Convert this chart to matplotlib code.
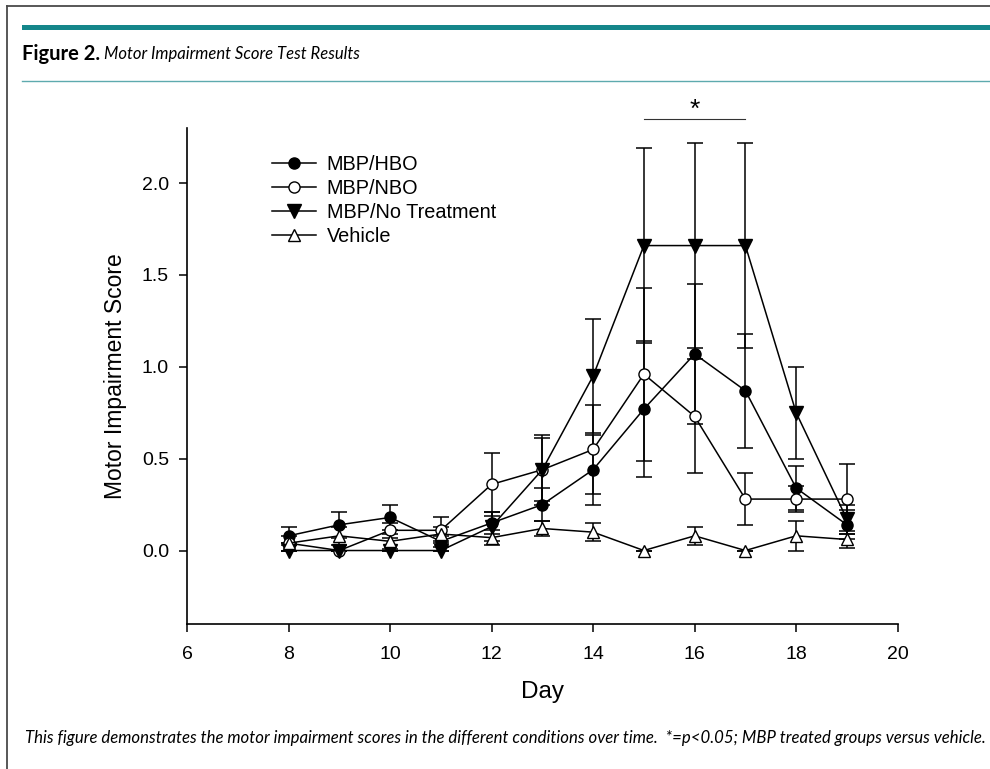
import matplotlib
matplotlib.use("Agg")
import matplotlib.pyplot as plt
from matplotlib.lines import Line2D
from matplotlib.patches import Rectangle
import numpy as np

# ---------------- data ----------------
days = [8, 9, 10, 11, 12, 13, 14, 15, 16, 17, 18, 19]

hbo      = [0.08, 0.14, 0.18, 0.05, 0.15, 0.25, 0.44, 0.77, 1.07, 0.87, 0.34, 0.14]
hbo_err  = [0.05, 0.07, 0.07, 0.03, 0.06, 0.09, 0.19, 0.37, 0.38, 0.31, 0.12, 0.08]

nbo      = [0.04, 0.00, 0.11, 0.11, 0.36, 0.44, 0.55, 0.96, 0.73, 0.28, 0.28, 0.28]
nbo_err  = [0.00, 0.00, 0.04, 0.07, 0.17, 0.17, 0.24, 0.47, 0.31, 0.14, 0.07, 0.19]

notr     = [0.00, 0.00, 0.00, 0.00, 0.13, 0.44, 0.95, 1.66, 1.66, 1.66, 0.75, 0.17]
notr_err = [0.00, 0.00, 0.00, 0.00, 0.08, 0.19, 0.31, 0.53, 0.56, 0.56, 0.25, 0.08]

veh      = [0.04, 0.08, 0.05, 0.09, 0.07, 0.12, 0.10, 0.00, 0.08, 0.00, 0.08, 0.06]
veh_err  = [0.04, 0.05, 0.04, 0.04, 0.04, 0.04, 0.05, 0.00, 0.05, 0.00, 0.08, 0.045]

labels = ["MBP/HBO", "MBP/NBO", "MBP/No Treatment", "Vehicle"]
xticks = [6, 8, 10, 12, 14, 16, 18, 20]
yticks = [0.0, 0.5, 1.0, 1.5, 2.0]

sig_days = [15, 17]
sig_star_day = 16

title_bold = "Figure 2."
title_ital = "Motor Impairment Score Test Results"
caption = ("This figure demonstrates the motor impairment scores in the different "
           "conditions over time.  *=p<0.05; MBP treated groups versus vehicle.")

# ---------------- figure ----------------
W, H = 990, 769
fig = plt.figure(figsize=(W / 100, H / 100), dpi=100)
fig.patch.set_facecolor("white")

def fx(px):
    return px / W

def fy(py):
    return 1 - py / H

# frame lines (left and top)
fig.add_artist(Line2D([fx(7), fx(7)], [fy(5.5), 0], color="#4a4a4a", lw=1.3,
                      transform=fig.transFigure))
fig.add_artist(Line2D([fx(7), 1], [fy(5.5), fy(5.5)], color="#4a4a4a", lw=1.3,
                      transform=fig.transFigure))
# teal bar
fig.add_artist(Rectangle((fx(22), fy(30)), 1 - fx(22), (30 - 25) / H,
                         facecolor="#14868a", edgecolor="none",
                         transform=fig.transFigure))
# thin rule under title
fig.add_artist(Line2D([fx(22), 1], [fy(81), fy(81)], color="#5eaaae", lw=1.0,
                      transform=fig.transFigure))

hum_family = ["Lato", "DejaVu Sans"]
renderer = fig.canvas.get_renderer()

def fit(txt, base, width_px):
    w = txt.get_window_extent(renderer=renderer).width
    txt.set_fontsize(base * width_px / w)

t1 = fig.text(fx(22), fy(54), title_bold, fontsize=13, fontweight="bold",
              family=hum_family, va="center", ha="left")
fit(t1, 13, 78)
bb = t1.get_window_extent(renderer=renderer)
t2 = fig.text((bb.x1 + 4) / W, fy(54), title_ital, fontsize=12, style="italic",
              family=hum_family, va="center", ha="left")

cap = fig.text(fx(25), fy(738), caption, fontsize=12, style="italic",
               family=hum_family, va="center", ha="left")
fit(cap, 12, 985 - 25)

# ---------------- axes ----------------
ax = fig.add_axes([fx(187), 1 - 624 / H, (897.7 - 187) / W, (624 - 128) / H])
ax.set_xlim(6, 20)
ax.set_ylim(-0.4, 2.3)

for s in ["top", "right"]:
    ax.spines[s].set_visible(False)
for s in ["left", "bottom"]:
    ax.spines[s].set_linewidth(1.2)

axfont = ["Liberation Sans", "DejaVu Sans"]
ax.set_xticks(xticks)
ax.set_yticks(yticks)
ax.set_xticklabels([str(t) for t in xticks], family=axfont, fontsize=14)
ax.set_yticklabels([f"{t:.1f}" for t in yticks], family=axfont, fontsize=14)
ax.tick_params(axis="y", direction="out", length=6, width=1.1, pad=7)
ax.tick_params(axis="x", direction="out", length=6, width=1.1, pad=10)

ax.set_xlabel("Day", family=axfont, fontsize=17.5, labelpad=13)
ax.set_ylabel("Motor Impairment Score", family=axfont, fontsize=16.5, labelpad=11)

lw = 1.1
series = [
    (hbo, hbo_err, "o", "black", 8),
    (nbo, nbo_err, "o", "white", 8),
    (notr, notr_err, "v", "black", 9.5),
    (veh, veh_err, "^", "white", 9),
]

for vals, errs, m, fc, ms in series:
    ax.errorbar(days, vals, yerr=errs, fmt="none", ecolor="black",
                elinewidth=lw, capsize=5.8, capthick=lw, zorder=2)

handles = []
for (vals, errs, m, fc, ms), lab in zip(series, labels):
    h, = ax.plot(days, vals, color="black", lw=lw, marker=m, markersize=ms,
                 markerfacecolor=fc, markeredgecolor="black", markeredgewidth=1.0,
                 zorder=3, label=lab)
    handles.append(h)

leg = fig.legend(handles=handles, loc="center left",
                 bbox_to_anchor=(fx(272), fy(200.5)), frameon=False,
                 prop={"family": axfont, "size": 14.3}, handlelength=2.2,
                 handletextpad=0.55, labelspacing=0.26, borderpad=0,
                 borderaxespad=0)

# significance bar
ax.plot(sig_days, [2.35, 2.35], color="#333333", lw=0.8, clip_on=False)
ax.text(sig_star_day, 2.335, "*", ha="center", va="bottom", fontsize=19,
        family=axfont, clip_on=False)

fig.savefig("out.png", dpi=100)
